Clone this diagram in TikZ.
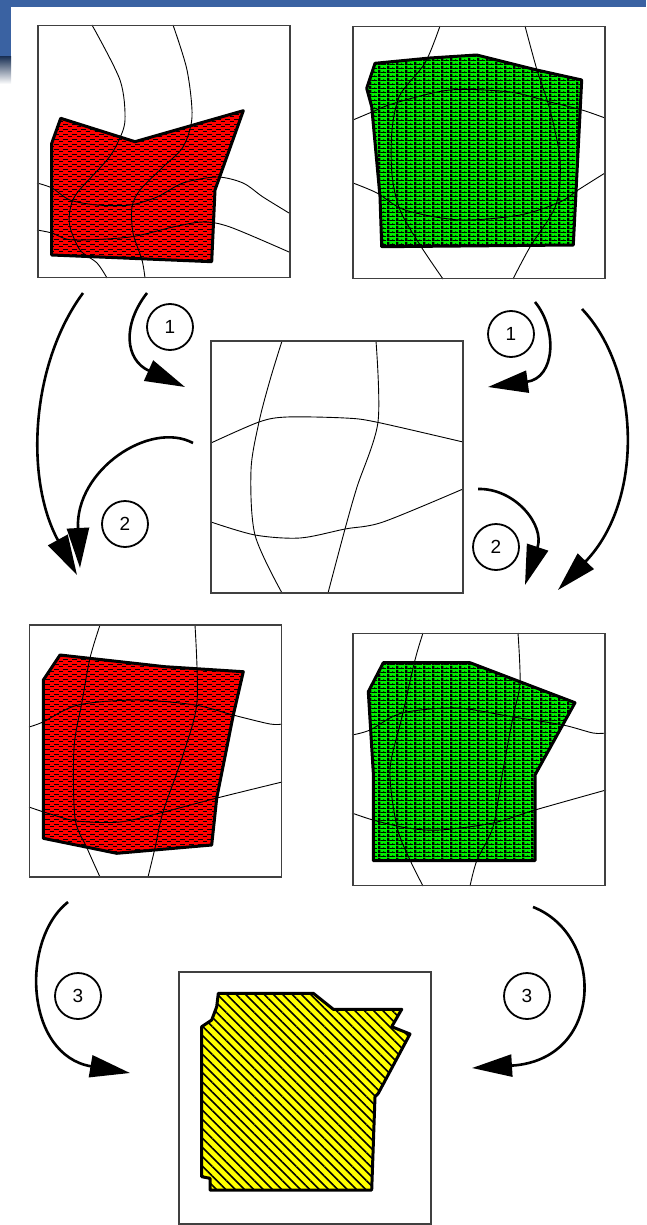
\documentclass[tikz,border=0pt]{standalone}
\usepackage{fontspec}
\newfontfamily\numfont{Liberation Sans}
\usetikzlibrary{arrows.meta, patterns.meta}
\definecolor{barblue}{HTML}{3A62A2}
\definecolor{srcred}{HTML}{FF0000}
\definecolor{srcgreen}{HTML}{00F000}
\definecolor{mergeyellow}{HTML}{FFFF00}

\tikzdeclarepattern{
  name=brickdash,
  type=uncolored,
  bottom left={(-.5pt,-.5pt)},
  top right={(9.5pt,5.5pt)},
  tile size={(9pt,5pt)},
  code={
    \draw[line width=0.8pt] (0pt,1pt) -- (5pt,1pt) (4.5pt,3.5pt) -- (9pt,3.5pt);
  }
}
\tikzdeclarepattern{
  name=teeweave,
  type=uncolored,
  bottom left={(0pt,0pt)},
  top right={(9pt,4pt)},
  tile size={(9pt,4pt)},
  code={
    \fill (0pt,0pt) rectangle (2.6pt,4pt);
    \fill (2.6pt,0pt) rectangle (9pt,1.1pt);
    \fill (6pt,1.1pt) rectangle (6.9pt,2.4pt);
  }
}

\newcommand\shapeRedA{(60.7,118.3) -- (135,141.7) -- (243.3,110.7) -- (215,190)
  -- (211.7,261.7) -- (51.7,255) -- (51.7,143.3) -- cycle}
\newcommand\shapeGreenA{(375,63.3) -- (430,58) -- (476.7,55) -- (536.7,70)
  -- (581.7,80) -- (573.3,245) -- (381.7,246.7) -- (380,196.7)
  -- (371.7,106.7) -- (366.7,88.3) -- cycle}
\newcommand\shapeRedB{(60,655) -- (165,666.7) -- (243.3,671.7) -- (233.3,715)
  -- (216.7,798.3) -- (211.7,845) -- (116.7,853.3) -- (43.3,838.3)
  -- (43.3,680) -- cycle}
\newcommand\shapeGreenB{(383.3,662.7) -- (470,662.7) -- (575,702.7) -- (535,775)
  -- (535,860.7) -- (373.3,860.7) -- (373.3,773) -- (368.3,691.7) -- cycle}
\newcommand\shapeMerged{(218.3,993.3) -- (313.3,993.3) -- (333.3,1009.3)
  -- (401.7,1009.3) -- (391.7,1026.7) -- (410,1034) -- (378.3,1093.3)
  -- (375,1096.7) -- (371.7,1190) -- (210,1190) -- (210,1178.3)
  -- (201.7,1176.7) -- (201.7,1026.7) -- (211.7,1020) -- (216.7,1006.7) -- cycle}

\begin{document}
\begin{tikzpicture}[x=1pt, y=-1pt,
    panel/.style={draw=black!75, line width=1.6pt, minimum width=252pt,
      minimum height=252pt, inner sep=0pt},
    gridline/.style={line width=0.9pt},
    outline/.style={draw, line width=3pt, line join=round},
    flow/.style={line width=2.6pt, -{Triangle[length=40pt, width=22pt]}},
    num/.style={circle, draw, line width=1.8pt, minimum size=46pt,
      inner sep=0pt, font=\numfont\fontsize{19}{19}\selectfont}]
  \useasboundingbox (0,0) rectangle (646,1225);
  \fill[barblue] (0,0) rectangle (646,7);
  \fill[barblue] (0,0) rectangle (11,57);
  \shade[top color=barblue!55!black, bottom color=white] (0,57) rectangle (11,84);

  % red source
  \path[preaction={fill=srcred}, pattern=brickdash] \shapeRedA;
  \draw[gridline] plot[smooth] coordinates {(92,25) (120,80) (125,120) (118,142)
    (107,160) (77,193) (70,210) (70,227) (80,250) (97,263) (107,278)};
  \draw[gridline] plot[smooth] coordinates {(173,25) (187,70) (192,117) (183,147)
    (163,167) (140,190) (132,207) (133,233) (142,260) (145,278)};
  \draw[gridline] plot[smooth] coordinates {(37,183) (52,188) (70,200) (97,205)
    (130,205) (157,197) (183,183) (217,177) (243,183) (263,197) (289,213)};
  \draw[gridline] plot[smooth] coordinates {(37,230) (52,233) (73,240) (130,237)
    (173,227) (203,222) (230,227) (289,252)};
  \draw[outline] \shapeRedA;

  % green source
  \path[preaction={fill=srcgreen}, pattern=teeweave] \shapeGreenA;
  \draw[gridline] plot[smooth] coordinates {(440,26) (425,63) (400,95) (392,130)
    (392,175) (400,210) (420,245) (443,279)};
  \draw[gridline] plot[smooth] coordinates {(525,26) (537,70) (550,110) (560,160)
    (556,205) (530,247) (513,279)};
  \draw[gridline] plot[smooth] coordinates {(353,120) (372,112) (395,103) (450,90)
    (510,92) (550,102) (582,110) (605,118)};
  \draw[gridline] plot[smooth] coordinates {(353,183) (377,193) (405,210) (460,220)
    (520,215) (560,202) (578,190) (605,173)};
  \draw[outline] \shapeGreenA;

  % warp grid
  \draw[gridline] plot[smooth] coordinates {(282,341) (270,380) (259,422) (251,470)
    (255,535) (282,593)};
  \draw[gridline] plot[smooth] coordinates {(376,341) (378,422) (357,487) (345,529)
    (328,593)};
  \draw[gridline] plot[smooth] coordinates {(211,443) (259,422) (287,417) (345,418)
    (376,422) (463,442)};
  \draw[gridline] plot[smooth] coordinates {(211,522) (255,535) (300,538) (345,529)
    (383,522) (463,489)};

  % red resampled
  \path[preaction={fill=srcred}, pattern=brickdash] \shapeRedB;
  \draw[gridline] plot[smooth] coordinates {(100,625) (90,658) (82,702) (74,748)
    (75,818) (87,848) (100,877)};
  \draw[gridline] plot[smooth] coordinates {(195,625) (197,702) (183,755) (163,812)
    (155,848) (148,877)};
  \draw[gridline] plot[smooth] coordinates {(29,727) (43,722) (78,705) (137,700)
    (195,705) (233,715) (270,724) (282,724)};
  \draw[gridline] plot[smooth] coordinates {(29,807) (47,813) (77,821) (120,822)
    (160,813) (217,798) (282,782)};
  \draw[outline] \shapeRedB;

  % green resampled
  \path[preaction={fill=srcgreen}, pattern=teeweave] \shapeGreenB;
  \draw[gridline] plot[smooth] coordinates {(423,633) (415,660) (402,717) (390,770)
    (397,827) (410,860) (423,886)};
  \draw[gridline] plot[smooth] coordinates {(518,633) (520,683) (513,717) (503,770)
    (493,827) (477,860) (470,886)};
  \draw[gridline] plot[smooth] coordinates {(352,735) (370,730) (402,713) (457,708)
    (513,717) (563,725) (593,733) (606,733)};
  \draw[gridline] plot[smooth] coordinates {(352,813) (373,820) (407,828) (440,830)
    (493,823) (535,810) (606,790)};
  \draw[outline] \shapeGreenB;

  % merged result
  \path[preaction={fill=mergeyellow},
    pattern={Lines[angle=-45, distance=6.6pt, line width=1.6pt]}] \shapeMerged;
  \draw[outline] \shapeMerged;

  \node[panel] (srcA) at (164,151.5) {};
  \node[panel] (srcB) at (479,152.5) {};
  \node[panel] (warp) at (337,467) {};
  \node[panel] (outA) at (155.5,751) {};
  \node[panel] (outB) at (479,759.5) {};
  \node[panel] (merged) at (305,1098) {};

  \foreach \nm/\px/\py/\lbl in {oneL/170/327/1, twoL/125/524/2, oneR/511/334/1,
      twoR/496/547/2, threeL/78/996/3, threeR/527/996/3}
    \node[num] (\nm) at (\px,\py) {\lbl};

  \coordinate (l1s) at (147,293);  \coordinate (l1e) at (185,387);
  \coordinate (lbs) at (83,293);   \coordinate (lbe) at (77,575);
  \coordinate (l2s) at (193,443);  \coordinate (l2e) at (80,568);
  \coordinate (r1s) at (535,302);  \coordinate (r1e) at (488,387);
  \coordinate (rbs) at (582,309);  \coordinate (rbe) at (558,590);
  \coordinate (r2s) at (478,489);  \coordinate (r2e) at (525,585);
  \coordinate (l3s) at (68,902);   \coordinate (l3e) at (130,1073);
  \coordinate (r3s) at (533,907);  \coordinate (r3e) at (472,1068);

  \draw[flow] (l1s) .. controls (122,325) and (125,360) .. (l1e);
  \draw[flow] (lbs) .. controls (30,365) and (25,480) .. (lbe);
  \draw[flow] (l2s) .. controls (150,420) and (75,470) .. (l2e);
  \draw[flow] (r1s) .. controls (558,330) and (555,378) .. (r1e);
  \draw[flow] (rbs) .. controls (640,370) and (645,500) .. (rbe);
  \draw[flow] (r2s) .. controls (515,488) and (545,525) .. (r2e);
  \draw[flow] (l3s) .. controls (20,940) and (25,1055) .. (l3e);
  \draw[flow] (r3s) .. controls (605,935) and (605,1060) .. (r3e);
\end{tikzpicture}
\end{document}
